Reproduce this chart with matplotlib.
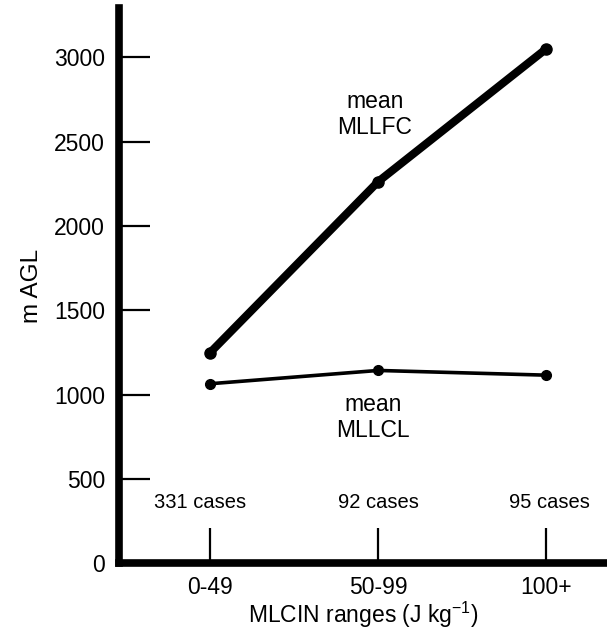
import matplotlib
matplotlib.use("Agg")
import matplotlib.pyplot as plt

plt.rcParams["font.family"] = ["Liberation Sans", "DejaVu Sans"]
plt.rcParams["mathtext.default"] = "regular"

# MLCIN ranges and the two mean heights (m AGL)
CATEGORIES = ["0-49", "50-99", "100+"]
CASES = ["331 cases", "92 cases", "95 cases"]
MLLFC = [1247, 2263, 3052]
MLLCL = [1064, 1143, 1115]
Y_TICKS = [0, 500, 1000, 1500, 2000, 2500, 3000]

fig = plt.figure(figsize=(6.07, 6.32), dpi=100)
ax = fig.add_axes([0.196, 0.109, 0.804, 0.878])

x = list(range(len(CATEGORIES)))
ax.plot(x, MLLFC, color="black", linewidth=5.8, marker="o", markersize=8,
        solid_capstyle="round", zorder=3)
ax.plot(x, MLLCL, color="black", linewidth=2.6, marker="o", markersize=7,
        zorder=3)

# case counts above each tick
offsets = [-0.06, 0.0, 0.02]
for xi, label, dx in zip(x, CASES, offsets):
    ax.text(xi + dx, 360, label, ha="center", va="center", fontsize=14.5)

ax.text(0.98, 2660, "mean\nMLLFC", ha="center", va="center", fontsize=16.5,
        linespacing=1.15)
ax.text(0.97, 862, "mean\nMLLCL", ha="center", va="center", fontsize=16.5,
        linespacing=1.15)

ax.set_xlim(-0.54, 2.36)
ax.set_ylim(0, 3292)
ax.set_xticks(x)
ax.set_xticklabels(CATEGORIES)
ax.set_yticks(Y_TICKS)

for side in ("top", "right"):
    ax.spines[side].set_visible(False)
for side in ("left", "bottom"):
    ax.spines[side].set_linewidth(5.5)

ax.tick_params(axis="y", direction="in", length=22, width=1.6, pad=10,
               labelsize=16.5)
ax.tick_params(axis="x", direction="in", length=25, width=1.6, pad=9,
               labelsize=16.5)
# the zero tick sits on the bottom axis line
ax.yaxis.get_major_ticks()[0].tick1line.set_visible(False)

ax.set_xlabel("MLCIN ranges (J kg$^{-1}$)", fontsize=16.5, labelpad=1)
ax.set_ylabel("m AGL", fontsize=17.5, labelpad=8)

fig.savefig("out.png", dpi=100)
